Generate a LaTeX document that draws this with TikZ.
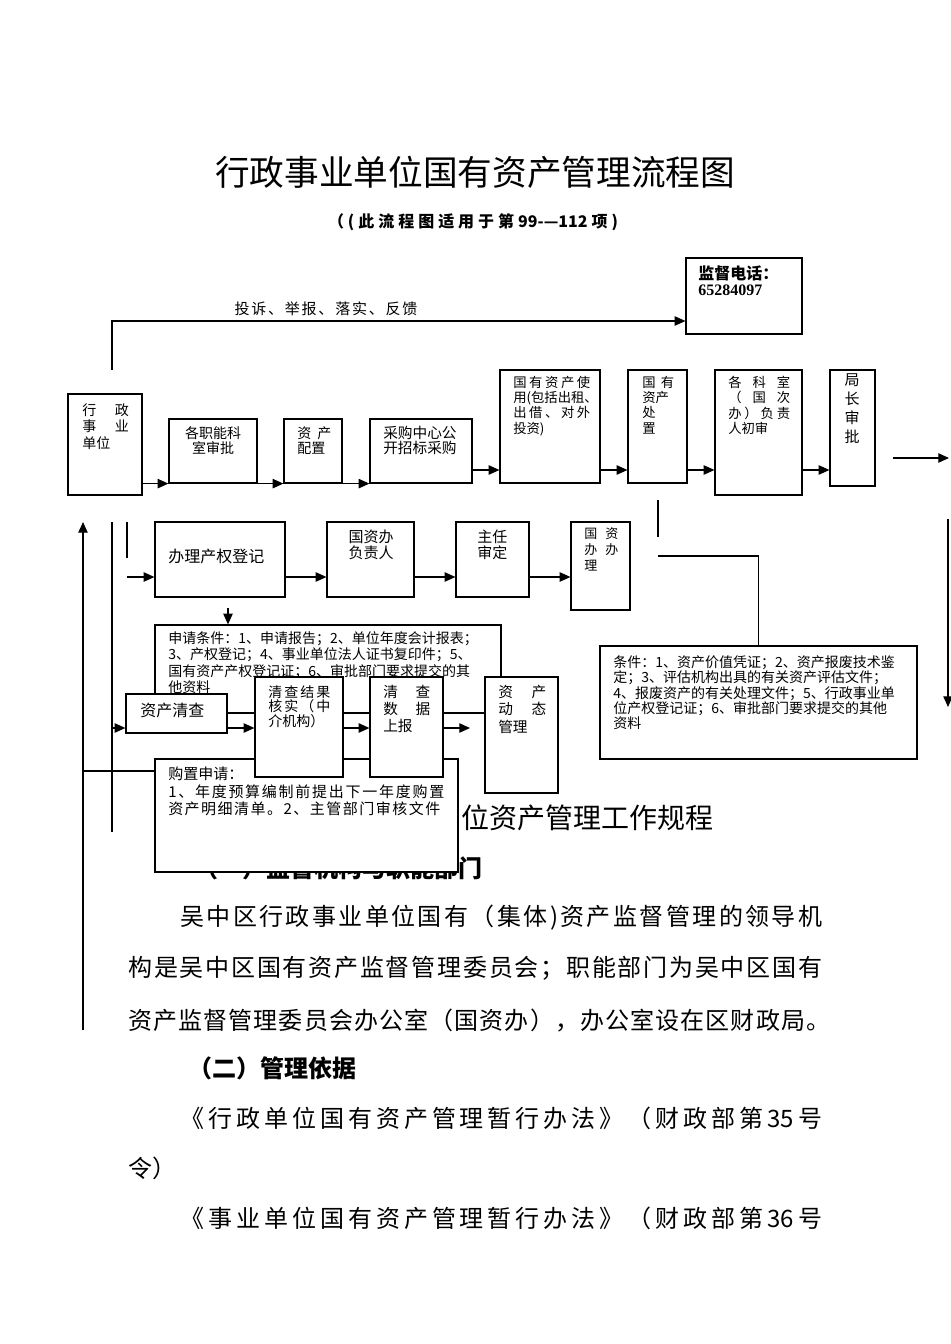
\documentclass[tikz,border=0pt]{standalone}
\usepackage{fontspec}
\setmainfont{Noto Sans CJK SC}
\newfontfamily\latserif{Liberation Serif}
\usetikzlibrary{arrows.meta,fit}
\ExplSyntaxOn
\bool_new:N \l_spread_first_bool
\NewDocumentCommand\spreadto{mm}
 {
  \makebox[#1]
   {
    \bool_set_true:N \l_spread_first_bool
    \tl_map_inline:nn {#2}
     {
      \bool_if:NTF \l_spread_first_bool
       { \bool_set_false:N \l_spread_first_bool }
       { \hfill }
      ##1
     }
   }
 }
\ExplSyntaxOff
\newcommand\fsz[2]{\fontsize{#1}{#2}\selectfont}
\begin{document}
\begin{tikzpicture}[x=0.75pt,y=-0.75pt,
  bx/.style={draw, line width=0.9pt, fill=white, inner sep=0pt},
  tx/.style={inner sep=0pt, align=left, anchor=north west},
  arr/.style={line width=0.9pt, -{Triangle[length=8pt,width=7pt]}},
  ln/.style={line width=0.9pt},
  para/.style={inner sep=0pt, anchor=west, font=\fsz{18pt}{18pt}}]
\useasboundingbox (0,0) rectangle (950,1344);
\fill[white] (0,0) rectangle (950,1344);

% ---------- titles ----------
\node[inner sep=0pt, font=\fsz{26pt}{26pt}] (title) at (475,172) {行政事业单位国有资产管理流程图};
\node[inner sep=0pt, font=\fsz{12pt}{12pt}\bfseries] (subtitle) at (473,222) {\spreadto{217.5pt}{（(此流程图适用于第{99-—112}项)}};

% ---------- body text (partly covered) ----------
\node[inner sep=0pt, anchor=west, font=\fsz{21pt}{21pt}] (h1) at (461,818) {位资产管理工作规程};
\node[inner sep=0pt, anchor=east, font=\fsz{18pt}{18pt}\bfseries] (h1a) at (483,868) {（一）监督机构与职能部门};
\node[para] (p1) at (180,918) {\spreadto{481.5pt}{吴中区行政事业单位国有（集体)资产监督管理的领导机}};
\node[para] (p2) at (128,968) {\spreadto{520.5pt}{构是吴中区国有资产监督管理委员会；职能部门为吴中区国有}};
\node[para] (p3) at (128,1020) {\spreadto{526.5pt}{资产监督管理委员会办公室（国资办），办公室设在区财政局。}};
\node[para, font=\fsz{18pt}{18pt}\bfseries] (h2) at (188,1068) {（二）管理依据};
\node[para] (p4) at (180,1118) {\spreadto{481.5pt}{《行政单位国有资产管理暂行办法》（财政部第{35}号}};
\node[para] (p5) at (128,1168) {令）};
\node[para] (p6) at (180,1218) {\spreadto{481.5pt}{《事业单位国有资产管理暂行办法》（财政部第{36}号}};

% ---------- feedback & phone ----------
\node[bx, fit={(686,258) (802,334)}] (phone) {};
\node[tx, font=\fsz{12pt}{12pt}\bfseries] (phonet) at (698,266) {监督电话：};
\node[tx, font=\fsz{12pt}{12pt}\latserif\bfseries] (phonen) at (698,285) {65284097};
\coordinate (fb0) at (112,370);
\coordinate (fb1) at (112,321);
\draw[arr] (fb0) -- (fb1) -- (phone.west |- fb1);
\node[inner sep=0pt, font=\fsz{11.25pt}{11.25pt}] (fbl) at (326,309) {\spreadto{137pt}{投诉、举报、落实、反馈}};

% ---------- top row ----------
\node[bx, fit={(68,394) (142,495)}] (b1) {};
\node[bx, fit={(169,419) (257,483)}] (b2) {};
\node[bx, fit={(284,419) (342,483)}] (b3) {};
\node[bx, fit={(370,419) (472,483)}] (b4) {};
\node[bx, fit={(500,370) (600,483)}] (b5) {};
\node[bx, fit={(628,370) (687,483)}] (b6) {};
\node[bx, fit={(715,370) (802,495)}] (b7) {};
\node[bx, fit={(830,370) (875,486)}] (b8) {};

\node[tx, font=\fsz{10.5pt}{12.4pt}] (b1t) at (82,403) {行\hspace{14pt}政\\事\hspace{14pt}业\\单位};
\node[tx, anchor=north, align=center, font=\fsz{10.5pt}{11.25pt}] (b2t) at (213,426) {各职能科\\室审批};
\node[tx, font=\fsz{10.5pt}{11.25pt}] (b3t) at (297,426) {资\hspace{4.5pt}产\\配置};
\node[tx, font=\fsz{11pt}{11.25pt}] (b4t) at (383,426) {采购中心公\\开招标采购};
\node[tx, font=\fsz{10pt}{11.4pt}] (b5t) at (513,376) {\spreadto{57.75pt}{国有资产使}\\用(包括出租、\\\spreadto{57.75pt}{出借、对外}\\投资)};
\node[tx, font=\fsz{10pt}{11.4pt}] (b6t) at (642,376) {国\hspace{4pt}有\\资产\\处\\置};
\node[tx, font=\fsz{10pt}{11.4pt}] (b7t) at (728,376) {\spreadto{46.5pt}{各科室}\\\spreadto{46.5pt}{（国次}\\\spreadto{46.5pt}{办）负责}\\人初审};
\node[tx, anchor=north, align=center, font=\fsz{11.25pt}{14.25pt}] (b8t) at (852,373) {局\\长\\审\\批};

\draw[arr] (b1.east |- b2.south) -- (b2.south west);
\draw[arr] (b2.south east) -- (b3.south west);
\draw[arr] (b3.south east) -- (b4.south west);
\coordinate (ry) at (0,470);
\draw[arr] (b4.east |- ry) -- (b5.west |- ry);
\draw[arr] (b5.east |- ry) -- (b6.west |- ry);
\draw[arr] (b6.east |- ry) -- (b7.west |- ry);
\draw[arr] (b7.east |- ry) -- (b8.west |- ry);
\coordinate (ra0) at (893,458);
\coordinate (ra1) at (949,458);
\draw[arr] (ra0) -- (ra1);
\coordinate (rv0) at (948,519);
\coordinate (rv1) at (948,707);
\draw[arr] (rv0) -- (rv1);

% ---------- middle row ----------
\node[bx, fit={(155,522) (285,597)}] (m1) {};
\node[bx, fit={(327,522) (414,597)}] (m2) {};
\node[bx, fit={(456,522) (529,597)}] (m3) {};
\node[bx, fit={(571,522) (630,610)}] (m4) {};
\node[tx, font=\fsz{12pt}{12pt}] (m1t) at (168,549) {办理产权登记};
\node[tx, anchor=north, align=center, font=\fsz{11.25pt}{12pt}] (m2t) at (371,530) {国资办\\负责人};
\node[tx, font=\fsz{11.25pt}{12pt}] (m3t) at (477,530) {主任\\审定};
\node[tx, font=\fsz{9.75pt}{12pt}] (m4t) at (584,527) {国\hspace{6pt}资\\办\hspace{6pt}办\\理};
\coordinate (my) at (0,577);
\coordinate (mL) at (127,577);
\draw[arr] (mL) -- (m1.west |- my);
\draw[arr] (m1.east |- my) -- (m2.west |- my);
\draw[arr] (m2.east |- my) -- (m3.west |- my);
\draw[arr] (m3.east |- my) -- (m4.west |- my);

% ---------- left lines ----------
\coordinate (L1b) at (83,1030);
\coordinate (L1t) at (83,522);
\draw[arr] (L1b) -- (L1t);
\coordinate (L2t) at (112,522);
\coordinate (L2b) at (112,832);
\draw[ln] (L2t) -- (L2b);
\coordinate (L3t) at (127,522);
\coordinate (L3b) at (127,558);
\draw[ln] (L3t) -- (L3b);

% ---------- application conditions ----------
\node[bx, fit={(155,625) (501,713)}] (app) {};
\node[tx, font=\fsz{10.5pt}{12.4pt}] (appt) at (168,631) {申请条件：1、申请报告；2、单位年度会计报表；\\3、产权登记；4、事业单位法人证书复印件；5、\\国有资产产权登记证；6、审批部门要求提交的其\\他资料};
\coordinate (d1) at (228,608);
\draw[arr] (d1) -- (d1 |- app.north);

% ---------- purchase request ----------
\node[bx, fit={(155,759) (458,872)}] (buy) {};
\node[tx, font=\fsz{11.25pt}{13.1pt}] (buyt) at (168,767) {购置申请：\\\spreadto{207pt}{1、年度预算编制前提出下一年度购置}\\\spreadto{204pt}{资产明细清单。2、主管部门审核文件}};
\coordinate (hy) at (83,771);
\draw[ln] (hy) -- (buy.west |- hy);

% ---------- inventory row ----------
\node[bx, fit={(126,694) (227,733)}] (q1) {};
\node[bx, fit={(255,677) (343,777)}] (q2) {};
\node[bx, fit={(370,677) (443,777)}] (q3) {};
\node[bx, fit={(485,677) (558,793)}] (q4) {};
\node[tx, font=\fsz{12pt}{12pt}] (q1t) at (140,703) {资产清查};
\node[tx, font=\fsz{10.5pt}{10.9pt}] (q2t) at (268,685) {\spreadto{46.5pt}{清查结果}\\\spreadto{46.5pt}{核实（中}\\介机构）};
\node[tx, font=\fsz{11pt}{12.75pt}] (q3t) at (383,685) {\spreadto{35.25pt}{清查}\\\spreadto{35.25pt}{数据}\\上报};
\node[tx, font=\fsz{11pt}{13pt}] (q4t) at (498,685) {\spreadto{36pt}{资产}\\\spreadto{36pt}{动态}\\管理};
\coordinate (qy) at (0,728);
\coordinate (j1) at (112,728);
\draw[arr] (j1) -- (q1.west |- qy);
\draw[arr] (q1.east |- qy) -- (q2.west |- qy);
\draw[arr] (q2.east |- qy) -- (q3.west |- qy);
\coordinate (qe) at (470,728);
\draw[arr] (q3.east |- qy) -- (qe);

% ---------- disposal conditions ----------
\coordinate (c1) at (658,500);
\coordinate (c2) at (658,537);
\draw[ln] (c1) -- (c2);
\node[bx, fit={(600,646) (917,759)}] (cond) {};
\coordinate (c3) at (658,556);
\draw[ln] (c3) -| (cond.north);
\node[tx, font=\fsz{10.5pt}{11.6pt}] (condt) at (613,655) {条件：1、资产价值凭证；2、资产报废技术鉴\\定；3、评估机构出具的有关资产评估文件；\\4、报废资产的有关处理文件；5、行政事业单\\位产权登记证；6、审批部门要求提交的其他\\资料};
\end{tikzpicture}
\end{document}
